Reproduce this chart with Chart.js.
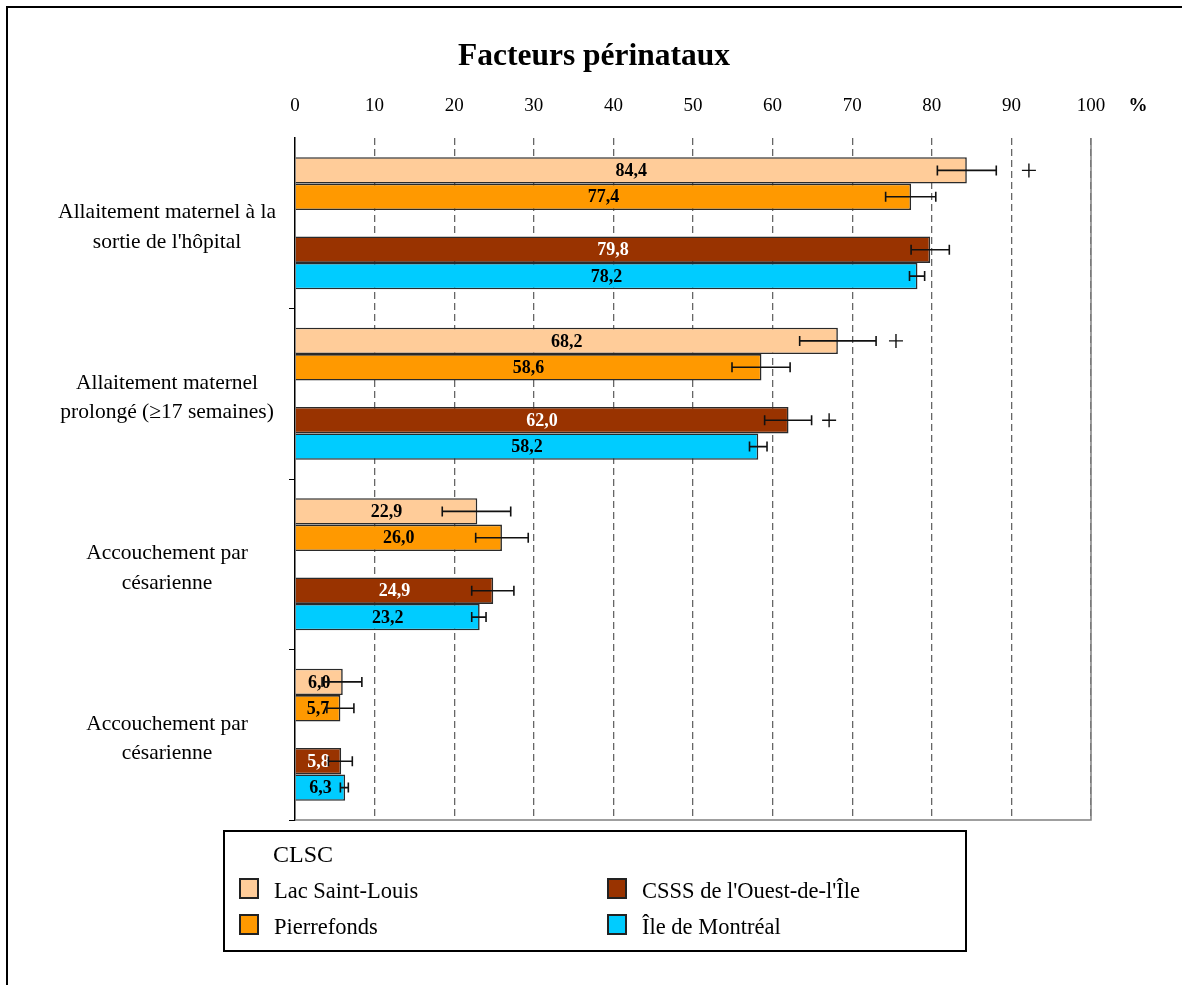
<!DOCTYPE html>
<html lang="fr">
<head>
  <meta charset="UTF-8">
  <title>Facteurs périnataux</title>
  <script src="https://cdn.jsdelivr.net/npm/chart.js"></script>
  <style>
    body { margin: 0; background: #fff; }
    #wrap { position: relative; width: 1182px; height: 985px; }
    #legend { position: absolute; left: 223px; top: 830px; width: 740px; height: 118px;
              border: 2px solid #000; font-family: "Liberation Serif", "Times New Roman", serif; }
    #legend .ttl { position: absolute; left: 48px; top: 10px; font-size: 24px; line-height: 24px; }
    #legend .item { position: absolute; font-size: 22.5px; line-height: 22px; }
    #legend .box { position: absolute; width: 16px; height: 17px; border: 2px solid #222; }
  </style>
</head>
<body>
<div id="wrap">
  <canvas id="chart" width="1182" height="985"></canvas>
  <div id="legend"><div class="ttl">CLSC</div></div>
</div>

<script>
  // catégories (axe vertical)
  const categories = [
    ['Allaitement maternel à la', "sortie de l'hôpital"],
    ['Allaitement maternel', 'prolongé (≥17 semaines)'],
    ['Accouchement par', 'césarienne'],
    ['Accouchement par', 'césarienne']
  ];
  const xTicks = [0, 10, 20, 30, 40, 50, 60, 70, 80, 90, 100];

  // valeurs (%)
  const lacSaintLouis = [84.4, 68.2, 22.9, 6.0];
  const pierrefonds   = [77.4, 58.6, 26.0, 5.7];
  const csssOuest     = [79.8, 62.0, 24.9, 5.8];
  const ileMontreal   = [78.2, 58.2, 23.2, 6.3];

  // intervalles de confiance (bornes)
  const loLac = [80.7, 63.4, 18.5, 3.4], hiLac = [88.1, 73.0, 27.1, 8.4];
  const loPie = [74.2, 54.9, 22.7, 4.0], hiPie = [80.5, 62.2, 29.3, 7.4];
  const loCss = [77.4, 59.0, 22.2, 4.2], hiCss = [82.2, 64.9, 27.5, 7.2];
  const loMtl = [77.2, 57.1, 22.2, 5.7], hiMtl = [79.1, 59.3, 24.0, 6.7];

  // signes "+" (différence significative)
  const plusLac = [92.2, 75.5, null, null];
  const plusPie = [null, null, null, null];
  const plusCss = [null, 67.1, null, null];
  const plusMtl = [null, null, null, null];

  const series = [
    { label: 'Lac Saint-Louis', data: lacSaintLouis, lo: loLac, hi: hiLac, plus: plusLac, color: '#FFCC99', text: '#000' },
    { label: 'Pierrefonds', data: pierrefonds, lo: loPie, hi: hiPie, plus: plusPie, color: '#FF9900', text: '#000' },
    { label: "CSSS de l'Ouest-de-l'Île", data: csssOuest, lo: loCss, hi: hiCss, plus: plusCss, color: '#993300', text: '#fff' },
    { label: 'Île de Montréal', data: ileMontreal, lo: loMtl, hi: hiMtl, plus: plusMtl, color: '#00CCFF', text: '#000' }
  ];

  // jeux de données : un jeu vide entre les deux paires pour l'espace
  const datasets = [];
  series.forEach((s, k) => {
    if (k === 2) datasets.push({ label: '', data: categories.map(() => null) });
    s.dsIndex = datasets.length;
    datasets.push({ label: s.label, data: s.data, backgroundColor: s.color,
                    borderColor: '#2a2a2a', borderWidth: 1.6 });
  });

  const fmt = v => v.toFixed(1).replace('.', ',');
  const serif = '"Liberation Serif", "Times New Roman", serif';

  const extras = {
    id: 'extras',
    beforeDraw(chart) {
      const c = chart.ctx;
      c.save();
      c.fillStyle = '#fff';
      c.fillRect(0, 0, chart.width, chart.height);
      c.strokeStyle = '#000';
      c.lineWidth = 2;
      c.beginPath();
      c.moveTo(7, chart.height); c.lineTo(7, 7); c.lineTo(chart.width, 7);
      c.stroke();
      c.restore();
    },
    afterDatasetsDraw(chart) {
      const c = chart.ctx, xs = chart.scales.x, a = chart.chartArea;
      const x100 = xs.getPixelForValue(100);
      c.save();
      // bord droit et bas
      c.strokeStyle = '#808080';
      c.lineWidth = 1.5;
      c.beginPath();
      c.moveTo(a.left, a.bottom); c.lineTo(x100, a.bottom); c.lineTo(x100, a.top);
      c.stroke();

      series.forEach(s => {
        const meta = chart.getDatasetMeta(s.dsIndex);
        meta.data.forEach((bar, i) => {
          // étiquette de valeur
          c.font = 'bold 18px ' + serif;
          c.fillStyle = s.text;
          c.textAlign = 'center';
          c.textBaseline = 'middle';
          c.fillText(fmt(s.data[i]), (bar.x + bar.base) / 2, bar.y + 1);

          // barre d'erreur
          const x1 = xs.getPixelForValue(s.lo[i]), x2 = xs.getPixelForValue(s.hi[i]);
          c.strokeStyle = '#111';
          c.lineWidth = 1.6;
          c.beginPath();
          c.moveTo(x1, bar.y); c.lineTo(x2, bar.y);
          c.moveTo(x1, bar.y - 5); c.lineTo(x1, bar.y + 5);
          c.moveTo(x2, bar.y - 5); c.lineTo(x2, bar.y + 5);
          c.stroke();

          // signe +
          if (s.plus[i] != null) {
            const px = xs.getPixelForValue(s.plus[i]);
            c.lineWidth = 1.4;
            c.beginPath();
            c.moveTo(px - 7, bar.y); c.lineTo(px + 7, bar.y);
            c.moveTo(px, bar.y - 7); c.lineTo(px, bar.y + 7);
            c.stroke();
          }
        });
      });
      c.restore();
    },
    afterDraw(chart) {
      const c = chart.ctx;
      c.save();
      c.fillStyle = '#000';
      c.textAlign = 'center';
      c.textBaseline = 'alphabetic';
      c.font = 'bold 31.5px ' + serif;
      c.fillText('Facteurs périnataux', 594, 65);
      c.font = 'bold 19px ' + serif;
      c.fillText('%', 1138, 111);
      c.restore();
    }
  };

  const ctx = document.getElementById('chart').getContext('2d');
  const chart = new Chart(ctx, {
    type: 'bar',
    data: { labels: categories, datasets: datasets },
    options: {
      indexAxis: 'y',
      responsive: false,
      animation: false,
      events: [],
      categoryPercentage: 0.775,
      barPercentage: 1,
      layout: { padding: { left: 40, right: 91, top: 88, bottom: 165 } },
      plugins: { legend: { display: false }, tooltip: { enabled: false } },
      scales: {
        x: {
          position: 'top',
          min: 0, max: 100,
          afterBuildTicks: scale => { scale.ticks = xTicks.map(v => ({ value: v })); },
          afterFit: scale => { scale.height = 50; },
          ticks: { font: { family: serif, size: 19 }, color: '#000', padding: 21 },
          grid: {
            drawTicks: false,
            lineWidth: 1.3,
            color: c => (c.tick && c.tick.value === 0) ? 'rgba(0,0,0,0)' : '#666'
          },
          border: { display: false, dash: [7, 4] }
        },
        y: {
          afterFit: scale => { scale.width = 255; },
          ticks: { font: { family: serif, size: 21.5, lineHeight: 1.36 }, color: '#000',
                   crossAlign: 'center', padding: 13, labelOffset: 4 },
          grid: {
            offset: true, drawOnChartArea: false, drawTicks: true, tickLength: 6,
            color: c => (c.index === 0 || c.index >= categories.length) ? 'rgba(0,0,0,0)' : '#000'
          },
          border: { display: true, color: '#000', width: 1.5 }
        }
      }
    },
    plugins: [extras]
  });

  // légende (deux colonnes)
  const legend = document.getElementById('legend');
  series.forEach((s, k) => {
    const col = k < 2 ? 0 : 1, row = k % 2;
    const left = col === 0 ? 14 : 382;
    const top = row === 0 ? 46 : 82;
    const box = document.createElement('div');
    box.className = 'box';
    box.style.left = left + 'px';
    box.style.top = top + 'px';
    box.style.background = s.color;
    legend.appendChild(box);
    const it = document.createElement('div');
    it.className = 'item';
    it.textContent = s.label;
    it.style.left = (left + 35) + 'px';
    it.style.top = (top + 2) + 'px';
    legend.appendChild(it);
  });
</script>
</body>
</html>
